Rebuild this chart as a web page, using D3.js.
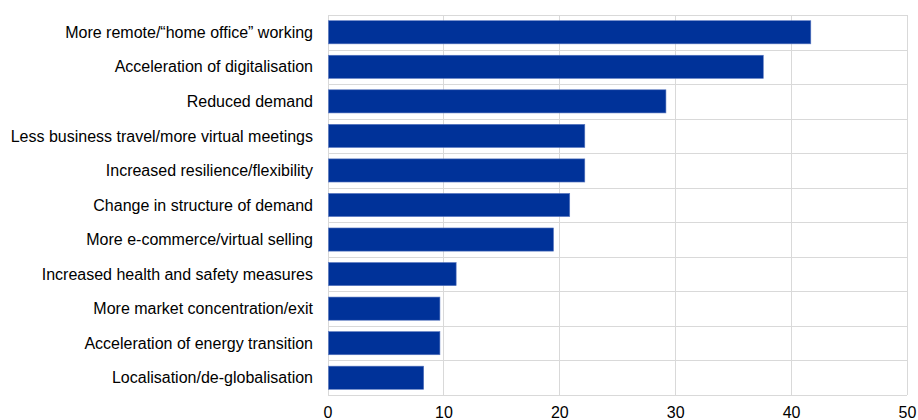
<!DOCTYPE html>
<html><head><meta charset="utf-8">
<script src="https://cdn.jsdelivr.net/npm/d3@7"></script>
<style>body{margin:0;background:#fff}svg{display:block}text{font-family:"Liberation Sans",Arial,sans-serif}</style>
</head><body>
<script>
const categories = [
  "More remote/\u201chome office\u201d working",
  "Acceleration of digitalisation",
  "Reduced demand",
  "Less business travel/more virtual meetings",
  "Increased resilience/flexibility",
  "Change in structure of demand",
  "More e-commerce/virtual selling",
  "Increased health and safety measures",
  "More market concentration/exit",
  "Acceleration of energy transition",
  "Localisation/de-globalisation"
];
const values = [41.7, 37.6, 29.2, 22.2, 22.2, 20.9, 19.5, 11.1, 9.7, 9.7, 8.3];
const xTicks = [0, 10, 20, 30, 40, 50];

const W = 918, H = 420;
const m = {left: 327.5, right: 11, top: 15, bottom: 25};
const svg = d3.select("body").append("svg").attr("width", W).attr("height", H);

const x = d3.scaleLinear().domain([0, 50]).range([m.left, W - m.right]);
const y = d3.scaleBand().domain(categories).range([m.top, H - m.bottom]).paddingInner(0.33).paddingOuter(0.165);
const yb = d3.scaleBand().domain(categories).range([m.top, H - m.bottom]);

const grid = svg.append("g").attr("stroke", "#d9d9d9").attr("stroke-width", 1).attr("shape-rendering", "crispEdges");
grid.selectAll("line.v").data(xTicks).join("line")
  .attr("x1", d => Math.round(x(d)) + 0.5).attr("x2", d => Math.round(x(d)) + 0.5)
  .attr("y1", m.top).attr("y2", H - m.bottom);
const bounds = categories.map(c => yb(c)).concat([H - m.bottom]);
grid.selectAll("line.h").data(bounds).join("line")
  .attr("x1", m.left).attr("x2", W - m.right)
  .attr("y1", d => Math.round(d) + 0.5).attr("y2", d => Math.round(d) + 0.5);

svg.append("g").selectAll("rect").data(values).join("rect")
  .attr("x", x(0) + 1)
  .attr("y", (d, i) => y(categories[i]))
  .attr("width", d => x(d) - x(0) - 1)
  .attr("height", y.bandwidth())
  .attr("fill", "#003299")
  .attr("stroke", "#5a78c0").attr("stroke-width", 0.6);

svg.append("g").selectAll("text").data(categories).join("text")
  .attr("x", 313).attr("y", d => yb(d) + yb.bandwidth() / 2)
  .attr("dy", "0.35em").attr("text-anchor", "end")
  .attr("font-size", 16).attr("fill", "#000").text(d => d);

const xAxis = d3.axisBottom(x).tickValues(xTicks).tickSize(0).tickPadding(12).tickFormat(d3.format("d"));
const ax = svg.append("g").attr("transform", `translate(0,${H - m.bottom})`).call(xAxis);
ax.select(".domain").remove();
ax.selectAll("text").attr("font-size", 16).attr("fill", "#000").attr("font-family", '"Liberation Sans",Arial,sans-serif');
</script>
</body></html>
